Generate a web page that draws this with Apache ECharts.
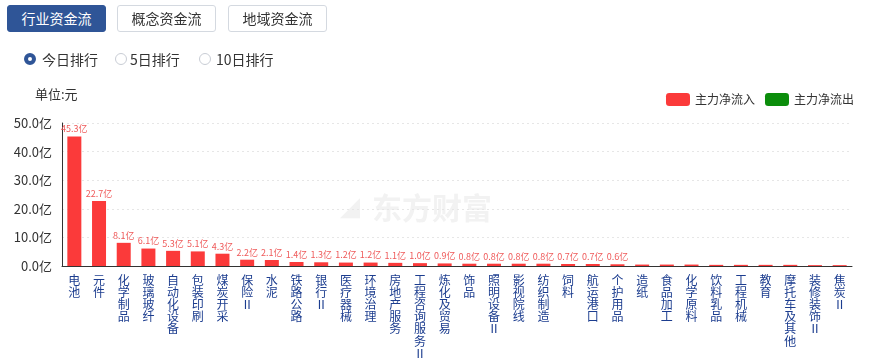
<!DOCTYPE html>
<html><head><meta charset="utf-8">
<script src="https://cdn.jsdelivr.net/npm/echarts@6/dist/echarts.min.js"></script>
<style>
html,body{margin:0;padding:0;background:#fff;font-family:"Noto Sans CJK SC","Noto Sans",sans-serif;}
#wrap{position:relative;width:875px;height:363px;overflow:hidden;}
#chart{position:absolute;left:0;top:0;width:875px;height:363px;}
.btn{position:absolute;top:5px;height:27px;width:99px;border:1px solid #d4d9e0;border-radius:3px;box-sizing:border-box;font-size:14px;line-height:25px;text-align:center;color:#333;background:#fff;}
.btn.on{background:#2f5597;border-color:#2f5597;color:#fff;}
.radio{position:absolute;top:49px;font-size:14px;color:#333;line-height:20px;}
.dot{position:absolute;top:4px;width:12px;height:12px;border-radius:50%;box-sizing:border-box;border:1px solid #c8ccd4;background:#fff;}
.dot.on{border:4px solid #2f5597;}
</style></head>
<body><div id="wrap">
<div id="chart"></div>
<div class="btn on" style="left:7px">行业资金流</div>
<div class="btn" style="left:117px">概念资金流</div>
<div class="btn" style="left:228px">地域资金流</div>
<div class="dot on" style="left:24px;top:53px"></div><div class="radio" style="left:42px">今日排行</div>
<div class="dot" style="left:115px;top:53px"></div><div class="radio" style="left:130px">5日排行</div>
<div class="dot" style="left:199px;top:53px"></div><div class="radio" style="left:216px">10日排行</div>
</div>
<script>
const categories = ["电池","元件","化学制品","玻璃玻纤","自动化设备","包装印刷","煤炭开采","保险Ⅱ","水泥","铁路公路","银行Ⅱ","医疗器械","环境治理","房地产服务","工程咨询服务Ⅱ","炼化及贸易","饰品","照明设备Ⅱ","影视院线","纺织制造","饲料","航运港口","个护用品","造纸","食品加工","化学原料","饮料乳品","工程机械","教育","摩托车及其他","装修装饰Ⅱ","焦炭Ⅱ"];
const inflow = [45.3,22.7,8.1,6.1,5.3,5.1,4.3,2.2,2.1,1.4,1.3,1.2,1.2,1.1,1.0,0.9,0.8,0.8,0.8,0.8,0.7,0.7,0.6,0.5,0.5,0.5,0.4,0.4,0.4,0.4,0.3,0.3];
const outflow = categories.map(() => '-');
const yTicks = {min:0, max:50, interval:10};

const chart = echarts.init(document.getElementById('chart'));
chart.setOption({
  animation:false,
  textStyle:{fontFamily:'"Noto Sans CJK SC","Noto Sans",sans-serif'},
  graphic:[
    {type:'text', left:35, top:88, style:{text:'单位:元', fontSize:13, fill:'#333', fontFamily:'"Noto Sans CJK SC"'}},
    {type:'text', left:372, top:193, z:-1, style:{text:'东方财富', fontSize:30, fontWeight:'bold', fill:'#f2f2f2', fontFamily:'"Noto Sans CJK SC"'}},
    {type:'text', left:340, top:195, z:-1, style:{text:'◢', fontSize:26, fill:'#f2f2f2'}}
  ],
  legend:{right:16, top:88, itemWidth:24, itemHeight:13, itemGap:10, icon:'roundRect',
    textStyle:{fontSize:12, color:'#333'}, data:['主力净流入','主力净流出']},
  grid:{left:62, right:23, top:123, bottom:97, containLabel:false, outerBoundsMode:'none'},
  xAxis:{type:'category', data:categories,
    axisLine:{lineStyle:{color:'#333'}}, axisTick:{show:false},
    axisLabel:{interval:0, color:'#1c3d8f', fontSize:12, lineHeight:12.2, margin:8, verticalAlign:'top',
      formatter:v => v.split('').join('\n')}},
  yAxis:{type:'value', min:yTicks.min, max:yTicks.max, interval:yTicks.interval,
    axisLine:{show:true, lineStyle:{color:'#333'}}, axisTick:{show:false},
    axisLabel:{color:'#333', fontSize:13, margin:10, formatter:v => v.toFixed(1)+'亿'},
    splitLine:{lineStyle:{color:'#e6e6e6', type:[2,3]}}},
  series:[
    {name:'主力净流入', type:'bar', stack:'a', data:inflow, barWidth:14, itemStyle:{color:'#fb3a3a'},
      label:{show:true, position:'top', distance:3, fontSize:9, color:'#ef5a5a',
        formatter:p => p.value >= 0.55 ? p.value.toFixed(1)+'亿' : ''}},
    {name:'主力净流出', type:'bar', stack:'a', data:outflow, barWidth:14, itemStyle:{color:'#0b8d0b'}}
  ]
});
</script></body></html>
